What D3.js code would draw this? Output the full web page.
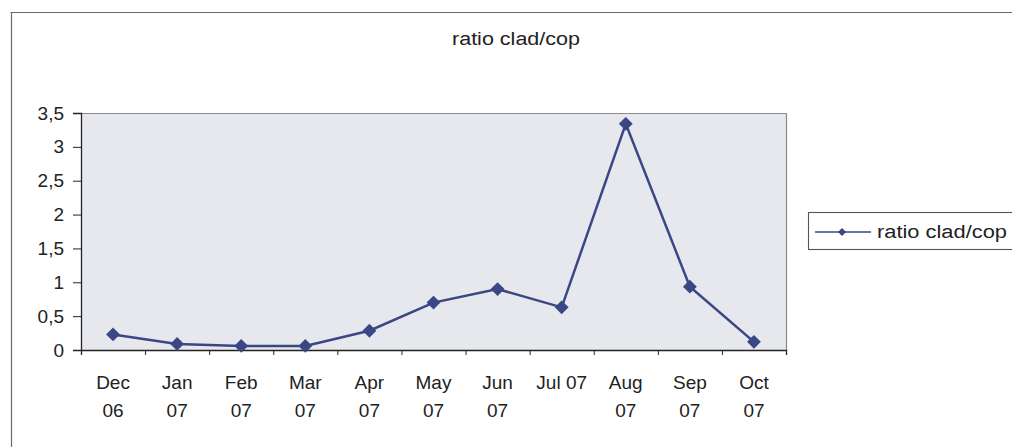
<!DOCTYPE html>
<html>
<head>
<meta charset="utf-8">
<script src="https://cdn.jsdelivr.net/npm/d3@7"></script>
<style>
  html, body { margin: 0; padding: 0; background: #ffffff; }
  svg { display: block; font-family: "Liberation Sans", Arial, sans-serif; }
</style>
</head>
<body>
<svg id="chart" width="1012" height="447"></svg>
<script>
// Monthly ratio clad/cop
const categories = ["Dec 06", "Jan 07", "Feb 07", "Mar 07", "Apr 07", "May 07",
                    "Jun 07", "Jul 07", "Aug 07", "Sep 07", "Oct 07"];
const tickLabels = [["Dec", "06"], ["Jan", "07"], ["Feb", "07"], ["Mar", "07"],
                    ["Apr", "07"], ["May", "07"], ["Jun", "07"], ["Jul 07"],
                    ["Aug", "07"], ["Sep", "07"], ["Oct", "07"]];
const ratioValues = [0.23, 0.09, 0.06, 0.06, 0.285, 0.70, 0.90, 0.63, 3.34, 0.935, 0.12];
const yTicks = [0, 0.5, 1, 1.5, 2, 2.5, 3, 3.5];
const seriesName = "ratio clad/cop";
const chartTitle = "ratio clad/cop";

const svg = d3.select("#chart");
const plot = { left: 81, right: 786, top: 113, bottom: 350 };
const lineColor = "#3a4784";

// outer chart frame (top and left edges visible)
svg.append("line").attr("x1", 10.5).attr("x2", 1012).attr("y1", 12.5).attr("y2", 12.5)
  .attr("stroke", "#6a6a6a").attr("stroke-width", 1.2);
svg.append("line").attr("x1", 11.5).attr("x2", 11.5).attr("y1", 12.5).attr("y2", 447)
  .attr("stroke", "#6a6a6a").attr("stroke-width", 1.2);

const x = d3.scaleBand().domain(categories).range([plot.left, plot.right]);
const xEdges = d3.scaleLinear().domain([0, categories.length]).range([plot.left, plot.right]);
const y = d3.scaleLinear().domain([0, 3.5]).range([plot.bottom, plot.top]);

// plot background
svg.append("rect")
  .attr("x", plot.left).attr("y", plot.top)
  .attr("width", plot.right - plot.left).attr("height", plot.bottom - plot.top)
  .attr("fill", "#e6e8ee");
svg.append("path")
  .attr("d", `M${plot.left},${plot.top + 0.5}H${plot.right + 0.5}V${plot.bottom}`)
  .attr("fill", "none").attr("stroke", "#8a8a8a").attr("stroke-width", 1.2);

// title
svg.append("text")
  .attr("x", 516).attr("y", 45)
  .attr("text-anchor", "middle")
  .attr("font-size", 18).attr("fill", "#222")
  .attr("textLength", 128).attr("lengthAdjust", "spacingAndGlyphs")
  .text(chartTitle);

// y axis
const yAxis = d3.axisLeft(y)
  .tickValues(yTicks)
  .tickSize(8)
  .tickPadding(9)
  .tickFormat(d => String(d).replace(".", ","));
const gy = svg.append("g").attr("transform", `translate(${plot.left},0)`).call(yAxis);
gy.select(".domain").attr("stroke", "#222").attr("stroke-width", 1.3);
gy.selectAll(".tick line").attr("stroke", "#222");
gy.selectAll(".tick text").attr("font-size", 19).attr("fill", "#222")
  .attr("font-family", "Liberation Sans, Arial, sans-serif");

// x axis: tick marks at category boundaries
const xAxis = d3.axisBottom(xEdges)
  .tickValues(d3.range(categories.length + 1))
  .tickSize(5)
  .tickFormat("");
const gx = svg.append("g").attr("transform", `translate(0,${plot.bottom})`).call(xAxis);
gx.select(".domain").attr("stroke", "#222").attr("stroke-width", 1.3);
gx.selectAll(".tick line").attr("stroke", "#222");

// category labels
const labels = svg.append("g")
  .attr("font-size", 19).attr("fill", "#222").attr("text-anchor", "middle");
categories.forEach((c, i) => {
  const t = labels.append("text")
    .attr("x", x(c) + x.bandwidth() / 2)
    .attr("y", 389);
  tickLabels[i].forEach((line, j) => {
    t.append("tspan")
      .attr("x", x(c) + x.bandwidth() / 2)
      .attr("dy", j === 0 ? 0 : 28)
      .text(line);
  });
});

// series line
const cx = (d, i) => x(categories[i]) + x.bandwidth() / 2;
const line = d3.line().x(cx).y(d => y(d));
svg.append("path")
  .datum(ratioValues)
  .attr("d", line)
  .attr("fill", "none")
  .attr("stroke", lineColor)
  .attr("stroke-width", 2.5);

// diamond markers: squares turned 45 degrees
const diamond = d3.symbol().type(d3.symbolSquare).size(96);
svg.append("g").selectAll("path")
  .data(ratioValues)
  .join("path")
  .attr("transform", (d, i) => `translate(${cx(d, i)},${y(d)}) rotate(45)`)
  .attr("d", diamond)
  .attr("fill", lineColor);

// legend
const legend = svg.append("g");
legend.append("rect")
  .attr("x", 808.5).attr("y", 212.5).attr("width", 210).attr("height", 37)
  .attr("fill", "#ffffff").attr("stroke", "#555").attr("stroke-width", 1.1);
legend.append("line")
  .attr("x1", 815).attr("x2", 871).attr("y1", 232).attr("y2", 232)
  .attr("stroke", lineColor).attr("stroke-width", 1.6);
legend.append("path")
  .attr("transform", "translate(842,232) rotate(45)")
  .attr("d", d3.symbol().type(d3.symbolSquare).size(32))
  .attr("fill", lineColor);
legend.append("text")
  .attr("x", 877).attr("y", 238)
  .attr("font-size", 18).attr("fill", "#222")
  .attr("textLength", 130).attr("lengthAdjust", "spacingAndGlyphs")
  .text(seriesName);
</script>
</body>
</html>
